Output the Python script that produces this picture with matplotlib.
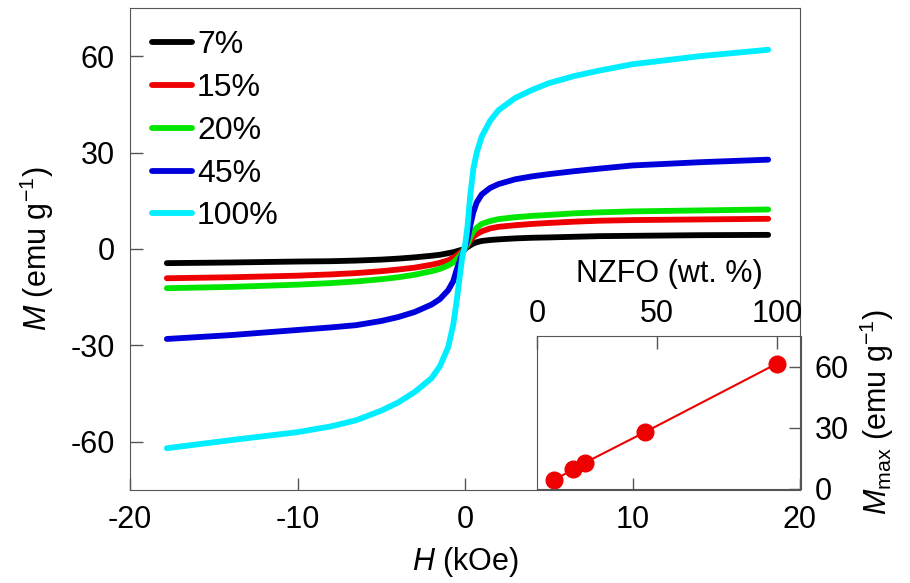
import matplotlib.pyplot as plt

plt.rcParams['font.family'] = ['Liberation Sans', 'DejaVu Sans']
plt.rcParams['mathtext.fontset'] = 'custom'
plt.rcParams['mathtext.rm'] = 'Liberation Sans'
plt.rcParams['mathtext.it'] = 'Liberation Sans:italic'
plt.rcParams['axes.unicode_minus'] = False

# field values (kOe)
H = [-17.8, -14, -10, -8, -6.5, -5, -4, -3, -2, -1.5, -1, -0.7, -0.5, -0.3, -0.15, 0,
     0.15, 0.3, 0.5, 0.7, 1, 1.5, 2, 3, 4, 5, 6.5, 8, 10, 14, 18.1]

m_7 = [-4.4, -4.2, -3.9, -3.8, -3.6, -3.3, -3.0, -2.6, -2.1, -1.8, -1.3, -1.0, -0.7, -0.4, -0.2, 0.1,
       0.6, 1.1, 1.7, 2.1, 2.5, 2.8, 3.0, 3.3, 3.5, 3.6, 3.8, 4.0, 4.1, 4.3, 4.4]
m_15 = [-9.1, -8.8, -8.3, -7.9, -7.5, -6.9, -6.4, -5.8, -4.9, -4.3, -3.5, -2.7, -2.0, -1.2, -0.6, 0.2,
        1.2, 2.5, 3.8, 4.6, 5.5, 6.4, 6.9, 7.4, 7.8, 8.1, 8.5, 8.8, 9.0, 9.2, 9.4]
m_20 = [-12.2, -11.8, -11.1, -10.6, -10.1, -9.4, -8.8, -8.0, -6.9, -6.2, -5.1, -4.2, -3.2, -2.0, -1.0, 0.3,
        1.5, 3.5, 5.5, 6.6, 7.8, 8.7, 9.3, 9.9, 10.3, 10.6, 11.1, 11.4, 11.7, 12.0, 12.3]
m_45 = [-28.0, -26.8, -25.2, -24.4, -23.7, -22.4, -21.2, -19.6, -17.3, -15.6, -12.8, -10.0, -6.5, -3.5, -1.5, 0.5,
        3.0, 7.0, 11.5, 14.5, 17.0, 19.0, 20.2, 21.7, 22.6, 23.3, 24.2, 25.0, 26.0, 27.0, 27.8]
m_100 = [-62.0, -59.5, -57.0, -55.2, -53.3, -50.3, -47.8, -44.5, -40.2, -36.5, -30.5, -23.5, -16.3, -8.0, -2.0, 1.0,
         7.0, 16.0, 25.0, 30.0, 35.0, 39.9, 43.2, 47.0, 49.5, 51.6, 53.8, 55.5, 57.5, 60.0, 62.0]

labels = ['7%', '15%', '20%', '45%', '100%']
colors = ['black', '#ee0000', '#00e600', '#0000dd', '#00eeff']

# inset: saturation magnetisation vs NZFO content
wt = [7, 15, 20, 45, 100]
m_max = [4.3, 9.6, 12.9, 27.9, 61.5]

fig = plt.figure(figsize=(9.1, 5.83), dpi=100)
ax = fig.add_axes([130 / 910, 1 - 490 / 583, 670 / 910, 482 / 583])

for m, lab, c in zip([m_7, m_15, m_20, m_45, m_100], labels, colors):
    ax.plot(H, m, color=c, lw=4.2, label=lab, solid_capstyle='round')

ax.set_xlim(-20, 20)
ax.set_ylim(-75, 75)
ax.set_xticks([-20, -10, 0, 10, 20])
ax.set_yticks([-60, -30, 0, 30, 60])
ax.tick_params(direction='in', length=9, width=1, labelsize=22, pad=11,
               colors='#555555', labelcolor='black')
for s in ax.spines.values():
    s.set_color('#555555')
ax.set_xlabel(r'$H$ (kOe)', fontsize=22, labelpad=7)
ax.set_ylabel(r'$M$ (emu g$^{-1}$)', fontsize=22, labelpad=10)

leg = ax.legend(loc='upper left', frameon=False, fontsize=23, handlelength=1.25,
                handletextpad=0.15, labelspacing=0.4, borderaxespad=0.3,
                borderpad=0.4)

# inset
ins = fig.add_axes([537 / 910, 1 - 489 / 583, 264 / 910, 153 / 583])
ins.patch.set_alpha(0)
ins.plot(wt, m_max, color='#ee0000', lw=1.5, marker='o', ms=12)
ins.set_xlim(0, 110)
ins.set_ylim(0, 75)
ins.set_xticks([0, 50, 100])
ins.set_yticks([0, 30, 60])
ins.xaxis.tick_top()
ins.xaxis.set_label_position('top')
ins.yaxis.tick_right()
ins.yaxis.set_label_position('right')
ins.tick_params(direction='in', length=9, width=1, labelsize=22,
                colors='#555555', labelcolor='black')
ins.tick_params(axis='x', pad=5)
ins.tick_params(axis='y', pad=10)
for s in ins.spines.values():
    s.set_color('#555555')
ins.set_xlabel('NZFO (wt. %)', fontsize=22, labelpad=12)
ins.set_ylabel(r'$M_{\rm max}$ (emu g$^{-1}$)', fontsize=22, labelpad=6)

plt.savefig('out.png', dpi=100)
